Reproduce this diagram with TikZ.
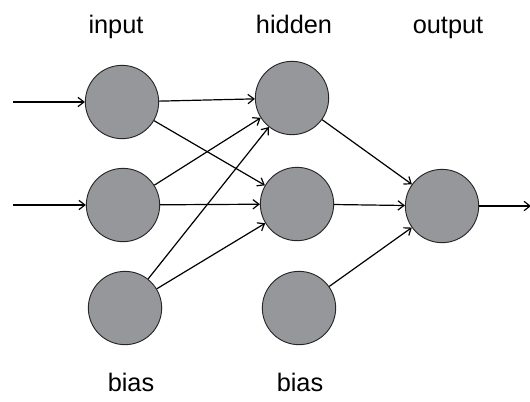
\documentclass[tikz,border=0pt]{standalone}
\usepackage{fontspec}
\setmainfont{Liberation Sans}
\usetikzlibrary{arrows,arrows.meta}

\definecolor{nodegray}{RGB}{150,151,155}

\begin{document}
\begin{tikzpicture}[x=0.75pt,y=-0.75pt,>={Straight Barb[length=4.5pt,width=7pt]},
  neuron/.style={circle,draw=black!85,fill=nodegray,line width=0.7pt,minimum size=55pt,inner sep=0pt},
  layer/.style={anchor=base,font=\fontsize{19}{22}\selectfont},
  conn/.style={->,line width=0.9pt}]

\useasboundingbox (0,0) rectangle (530,401);

% layer labels
\node[layer] (lin) at (116,33) {input};
\node[layer] (lhid) at (294,33) {hidden};
\node[layer] (lout) at (448,33) {output};
\node[layer] (lb1) at (131,391) {bias};
\node[layer] (lb2) at (300,391) {bias};

% neurons
\node[neuron] (i1) at (122,102) {};
\node[neuron] (i2) at (123,205) {};
\node[neuron] (b1) at (125,308) {};
\node[neuron] (h1) at (292,98) {};
\node[neuron] (h2) at (297,204) {};
\node[neuron] (b2) at (299,308) {};
\node[neuron] (o) at (442,206) {};

\coordinate (x1) at (13,102);
\coordinate (x2) at (13,205);
\coordinate (y) at (531,206);

\draw[conn] (x1) -- (i1);
\draw[conn] (x2) -- (i2);

\draw[conn] (i1) -- (h1);
\draw[conn] (i1) -- (h2);
\draw[conn] (i2) -- (h1);
\draw[conn] (i2) -- (h2);
\draw[conn] (b1) -- (h1);
\draw[conn] (b1) -- (h2);

\draw[conn] (h1) -- (o);
\draw[conn] (h2) -- (o);
\draw[conn] (b2) -- (o);
\draw[conn] (o) -- (y);

\end{tikzpicture}
\end{document}
